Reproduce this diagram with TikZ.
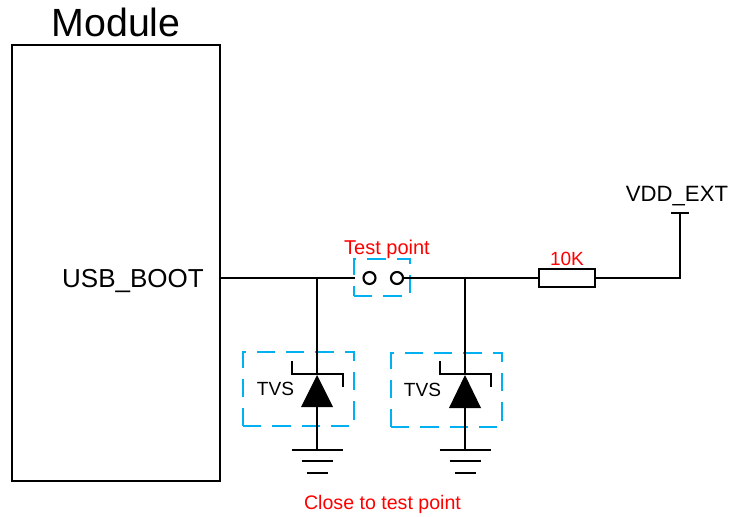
\documentclass[tikz,border=0pt]{standalone}
\usepackage{fontspec}
\setmainfont{Liberation Sans}
\usetikzlibrary{calc}
\definecolor{tvsblue}{RGB}{0,176,240}
\tikzset{
  wire/.style={line width=1.6pt,black},
  thin wire/.style={line width=1.3pt,black},
  dashbox/.style={draw=tvsblue,line width=1.8pt,dash pattern=on 13.7pt off 8.3pt,line join=miter},
  lbl/.style={inner sep=0pt,text=black},
  redlbl/.style={inner sep=0pt,text=red},
  pad/.style={circle,draw=black,line width=1.6pt,fill=white,minimum size=9pt,inner sep=0pt},
  res/.style={rectangle,draw=black,line width=1.6pt,fill=white,minimum width=41.5pt,minimum height=14pt,inner sep=0pt},
}
\newcommand{\fs}[1]{\fontsize{#1}{#1}\selectfont}
\begin{document}
\begin{tikzpicture}[x=0.75pt,y=-0.75pt]
\useasboundingbox (0,0) rectangle (729,517);
% module
\node[draw=black,line width=1.6pt,minimum width=156pt,minimum height=327pt,inner sep=0pt] (module) at (116,263) {};
\node[lbl,font=\fs{29.5}] (modtitle) at (116,22.5) {Module};
\node[lbl,font=\fs{19.5}] (usb) at (133,281) {USB\_BOOT};
% dashed boxes
\draw[dashbox] (354,296) -- (410,296) -- (410,259) -- (354,259) -- cycle;
\draw[dashbox] (243,426) -- (354,426) -- (354,352) -- (243,352) -- cycle;
\draw[dashbox] (391,427) -- (502,427) -- (502,353) -- (391,353) -- cycle;
% junctions and terminals
\coordinate (usbout) at (module.east |- 0,278);
\coordinate (tpin) at (355,278);
\coordinate (j1) at (317,278);
\coordinate (j2) at (465,278);
\node[pad] (tp1) at (369.5,278) {};
\node[pad] (tp2) at (397,278) {};
\node[res] (r1) at (567,278) {};
\coordinate (corner) at (680,278);
\coordinate (vdd) at (680,213);
% left diode
\coordinate (d1k) at (317,374);
\coordinate (d1a) at (317,407);
\coordinate (g1) at (317,450);
% right diode
\coordinate (d2k) at (465,374);
\coordinate (d2a) at (465,408);
\coordinate (g2) at (465,450);
% wires
\draw[wire] (usbout) -- (tpin);
\draw[wire] (tp2) -- (r1);
\draw[wire] (r1) -- (corner) -- (vdd);
\draw[wire] (j1) -- (d1k);
\draw[wire] (j2) -- (d2k);
\draw[wire] (d1a) -- (g1);
\draw[wire] (d2a) -- (g2);
% VDD tick
\draw[wire] ($(vdd)+(-9,0)$) -- ($(vdd)+(9,0)$);
% diodes
\foreach \k/\a/\g in {d1k/d1a/g1,d2k/d2a/g2}{
  \fill[black] ($(\k)+(0,1)$) -- ($(\a)+(16,0)$) -- ($(\a)+(-16,0)$) -- cycle;
  \draw[thin wire,line join=miter] ($(\k)+(-25,-13)$) -- ($(\k)+(-25,0)$) -- ($(\k)+(26,0)$) -- ($(\k)+(26,13)$);
  \draw[wire] ($(\g)+(-25.5,0)$) -- ($(\g)+(25.5,0)$);
  \draw[wire] ($(\g)+(-15.5,11)$) -- ($(\g)+(15.5,11)$);
  \draw[wire] ($(\g)+(-10.5,23)$) -- ($(\g)+(10.5,23)$);
}
% labels
\node[lbl,font=\fs{14.3}] (tvs1) at (275.5,389) {TVS};
\node[lbl,font=\fs{14.3}] (tvs2) at (422.5,390) {TVS};
\node[redlbl,font=\fs{15}] (tptext) at (387,249.5) {Test point};
\node[redlbl,font=\fs{14.3}] (r1text) at (567,258.5) {10K};
\node[lbl,font=\fs{16.6}] (vddtext) at (677,196.5) {VDD\_EXT};
\node[redlbl,font=\fs{14.7}] (closetext) at (382.5,504.5) {Close to test point};
\end{tikzpicture}
\end{document}
